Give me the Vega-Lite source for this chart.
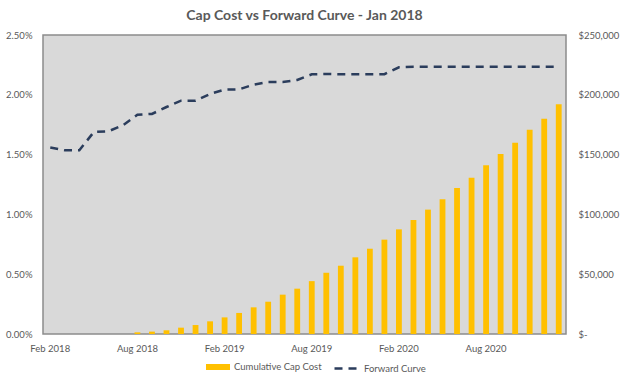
{
  "$schema": "https://vega.github.io/schema/vega-lite/v6.json",
  "width": 523,
  "height": 299,
  "padding": {"left": 5, "top": 9, "right": 5, "bottom": 5},
  "background": "white",
  "title": {"text": "Cap Cost vs Forward Curve - Jan 2018", "fontSize": 14, "font": "Lato", "fontWeight": "bold", "color": "#595959", "offset": 7, "anchor": "middle"},
  "data": {"values": [
    {"month": "Feb 2018", "rate": 0.0156, "cost": 0},
    {"month": "Mar 2018", "rate": 0.01536, "cost": 0},
    {"month": "Apr 2018", "rate": 0.01536, "cost": 0},
    {"month": "May 2018", "rate": 0.01689, "cost": 0},
    {"month": "Jun 2018", "rate": 0.01695, "cost": 0},
    {"month": "Jul 2018", "rate": 0.01745, "cost": 0},
    {"month": "Aug 2018", "rate": 0.01834, "cost": 1400},
    {"month": "Sep 2018", "rate": 0.0184, "cost": 2000},
    {"month": "Oct 2018", "rate": 0.01898, "cost": 3100},
    {"month": "Nov 2018", "rate": 0.01951, "cost": 5300},
    {"month": "Dec 2018", "rate": 0.01951, "cost": 7500},
    {"month": "Jan 2019", "rate": 0.02007, "cost": 10600},
    {"month": "Feb 2019", "rate": 0.02043, "cost": 13900},
    {"month": "Mar 2019", "rate": 0.02046, "cost": 17600},
    {"month": "Apr 2019", "rate": 0.02085, "cost": 22300},
    {"month": "May 2019", "rate": 0.02107, "cost": 27000},
    {"month": "Jun 2019", "rate": 0.02107, "cost": 32900},
    {"month": "Jul 2019", "rate": 0.02124, "cost": 37900},
    {"month": "Aug 2019", "rate": 0.02171, "cost": 44200},
    {"month": "Sep 2019", "rate": 0.02174, "cost": 51200},
    {"month": "Oct 2019", "rate": 0.02172, "cost": 57100},
    {"month": "Nov 2019", "rate": 0.02172, "cost": 64100},
    {"month": "Dec 2019", "rate": 0.02172, "cost": 71300},
    {"month": "Jan 2020", "rate": 0.02172, "cost": 78900},
    {"month": "Feb 2020", "rate": 0.0223, "cost": 87500},
    {"month": "Mar 2020", "rate": 0.02235, "cost": 95300},
    {"month": "Apr 2020", "rate": 0.02235, "cost": 104000},
    {"month": "May 2020", "rate": 0.02235, "cost": 112600},
    {"month": "Jun 2020", "rate": 0.02235, "cost": 122100},
    {"month": "Jul 2020", "rate": 0.02235, "cost": 130700},
    {"month": "Aug 2020", "rate": 0.02235, "cost": 141000},
    {"month": "Sep 2020", "rate": 0.02235, "cost": 150500},
    {"month": "Oct 2020", "rate": 0.02235, "cost": 160000},
    {"month": "Nov 2020", "rate": 0.02235, "cost": 170800},
    {"month": "Dec 2020", "rate": 0.02235, "cost": 180000},
    {"month": "Jan 2021", "rate": 0.02235, "cost": 192000}
  ]},
  "encoding": {
    "x": {
      "field": "month", "type": "ordinal", "sort": null,
      "scale": {"type": "band", "paddingInner": 0.6, "paddingOuter": 0.3},
      "axis": {"values": ["Feb 2018", "Aug 2018", "Feb 2019", "Aug 2019", "Feb 2020", "Aug 2020"], "labelAngle": 0, "domain": false, "ticks": false, "title": null, "labelPadding": 9, "labelColor": "#595959", "labelFontSize": 9.5, "labelFont": "Lato"}
    }
  },
  "layer": [
    {
      "mark": {"type": "bar"},
      "encoding": {
        "y": {"field": "cost", "type": "quantitative", "scale": {"domain": [0, 250000], "nice": false},
          "axis": {"orient": "right", "values": [0, 50000, 100000, 150000, 200000, 250000], "labelExpr": "datum.value === 0 ? '$-' : '$' + format(datum.value, ',')", "title": null, "domain": false, "ticks": false, "grid": false, "labelPadding": 12, "labelColor": "#595959", "labelFontSize": 9.5, "labelFont": "Lato"}},
        "color": {"datum": "Cumulative Cap Cost", "type": "nominal",
          "scale": {"domain": ["Cumulative Cap Cost"], "range": ["#ffc000"]},
          "legend": {"title": null, "orient": "none", "legendX": 163, "legendY": 320, "direction": "horizontal", "padding": 0, "symbolType": "M-1,-0.25H1V0.25H-1Z", "symbolSize": 576, "symbolStrokeWidth": 0, "labelOffset": 4, "labelFont": "Lato", "labelFontSize": 9.5, "labelColor": "#595959"}
        }
      }
    },
    {
      "mark": {"type": "line", "strokeWidth": 2.5, "color": "#2b3d5c"},
      "encoding": {
        "y": {"field": "rate", "type": "quantitative", "scale": {"domain": [0, 0.025], "nice": false},
          "axis": {"orient": "left", "format": ".2%", "values": [0, 0.005, 0.01, 0.015, 0.02, 0.025], "title": null, "domain": false, "ticks": false, "grid": false, "labelPadding": 11, "minExtent": 35, "maxExtent": 35, "labelColor": "#595959", "labelFontSize": 9.5, "labelFont": "Lato"}},
        "strokeDash": {"datum": "Forward Curve", "type": "nominal",
          "scale": {"domain": ["Forward Curve"], "range": [[8, 6]]},
          "legend": {"title": null, "orient": "none", "legendX": 290, "legendY": 320, "direction": "horizontal", "padding": 0, "symbolType": "stroke", "symbolSize": 576, "symbolStrokeColor": "#2b3d5c", "symbolStrokeWidth": 2.5, "labelOffset": 4, "labelFont": "Lato", "labelFontSize": 9.5, "labelColor": "#595959"}
        }
      }
    }
  ],
  "resolve": {"scale": {"y": "independent"}},
  "config": {
    "view": {"fill": "#d9d9d9", "stroke": "#8c8c8c", "strokeWidth": 1.5}
  }
}
